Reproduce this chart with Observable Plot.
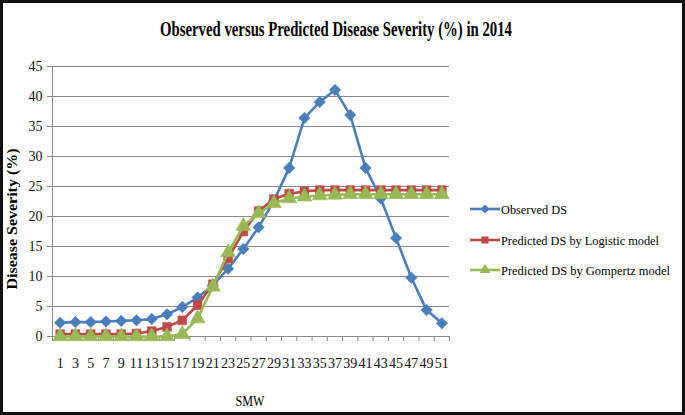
<!DOCTYPE html>
<html><head><meta charset="utf-8">
<script src="https://cdn.jsdelivr.net/npm/d3@7"></script>
<script src="https://cdn.jsdelivr.net/npm/@observablehq/plot@0.6"></script>
<style>
html,body{margin:0;padding:0;background:#fff;}
#wrap{position:relative;width:685px;height:415px;overflow:hidden;}
</style></head><body><div id="wrap"></div>
<script>
const weeks = [1,3,5,7,9,11,13,15,17,19,21,23,25,27,29,31,33,35,37,39,41,43,45,47,49,51];
const observed = [2.3,2.4,2.4,2.5,2.6,2.7,2.9,3.7,4.9,6.5,8.5,11.3,14.6,18.2,22.6,28.1,36.4,39.1,41.1,36.9,28.1,23.0,16.4,9.8,4.4,2.2];
const logistic = [0.4,0.4,0.4,0.4,0.4,0.5,0.9,1.6,2.7,5.2,8.7,13.0,17.5,20.9,22.9,23.8,24.2,24.4,24.4,24.4,24.4,24.4,24.4,24.4,24.4,24.4];
const gompertz = [0,0,0,0,0,0,0,0,0.4,3.0,8.3,14.0,18.4,20.5,22.2,23.0,23.3,23.5,23.6,23.7,23.7,23.7,23.7,23.7,23.7,23.7];
const yTicks = [0,5,10,15,20,25,30,35,40,45];
const weekBoundaries = [0,2,4,6,8,10,12,14,16,18,20,22,24,26,28,30,32,34,36,38,40,42,44,46,48,50,52];
const seriesNames = ["Observed DS","Predicted DS by Logistic model","Predicted DS by Gompertz model"];
const seriesValues = [observed, logistic, gompertz];
const colors = ["#4a7ebb","#be4b48","#98b954"];
const symbols = ["diamond2","square","triangle"];
const radii = [5.2, 5.0, 5.6];

const rows = seriesNames.map((s,i)=> weeks.map((w,j)=>({series:s, week:w, value:seriesValues[i][j]})));

const seriesMarks = rows.flatMap((data,i)=>[
  Plot.line(data,{x:"week", y:"value", stroke:colors[i], strokeWidth:2.6}),
  Plot.dot(data,{x:"week", y:"value", fill:colors[i], stroke:colors[i], strokeWidth:0.5, symbol:symbols[i], r:radii[i]})
]);

const chart = Plot.plot({
  width:685, height:415,
  marginLeft:52, marginRight:236, marginTop:66, marginBottom:79,
  style:{fontFamily:"'Liberation Serif', serif", fontSize:"14px", color:"#000", background:"#fff"},
  x:{type:"linear", domain:[0,52]},
  y:{domain:[0,45]},
  marks:[
    Plot.gridY(yTicks,{stroke:"#8a8a8a", strokeOpacity:1, strokeWidth:1}),
    Plot.ruleX([0],{stroke:"#8a8a8a"}),
    Plot.ruleY([0],{stroke:"#8a8a8a"}),
    Plot.axisY(yTicks,{tickSize:5, tickPadding:5, label:null, stroke:"#8a8a8a", fill:"#111"}),
    Plot.axisX(weekBoundaries,{tickSize:5, tickFormat:()=>"", label:null, stroke:"#8a8a8a"}),
    Plot.axisX(weeks,{tickSize:0, tickPadding:22, label:null, fill:"#111"}),
    ...seriesMarks
  ]
});
document.getElementById("wrap").appendChild(chart);

const svg = d3.select(chart);
// border
svg.append("rect").attr("x",1.5).attr("y",1.5).attr("width",682).attr("height",412)
  .attr("fill","none").attr("stroke","#111").attr("stroke-width",3);
// title
svg.append("text").attr("x",336).attr("y",36).attr("text-anchor","middle")
  .attr("font-family","'Liberation Serif', serif").attr("font-weight","bold").attr("font-size",20)
  .attr("textLength",352).attr("lengthAdjust","spacingAndGlyphs").attr("fill","#000")
  .text("Observed versus Predicted Disease Severity (%) in 2014");
// y label
svg.append("text").attr("transform","translate(17,219) rotate(-90)").attr("text-anchor","middle")
  .attr("font-family","'Liberation Serif', serif").attr("font-weight","bold").attr("font-size",14)
  .attr("textLength",141).attr("lengthAdjust","spacingAndGlyphs").attr("fill","#000")
  .text("Disease Severity (%)");
// x label
svg.append("text").attr("x",250).attr("y",406).attr("text-anchor","middle")
  .attr("font-family","'Liberation Serif', serif").attr("font-size",15).attr("fill","#000")
  .attr("textLength",29).attr("lengthAdjust","spacingAndGlyphs")
  .text("SMW");
// legend
const legY = [209,240,270];
const legLen = [66,158,169];
const symGen = {diamond2:d3.symbolDiamond2, square:d3.symbolSquare, triangle:d3.symbolTriangle};
seriesNames.forEach((name,i)=>{
  const g = svg.append("g").attr("transform",`translate(0,${legY[i]})`);
  g.append("line").attr("x1",470).attr("x2",500).attr("y1",0).attr("y2",0)
    .attr("stroke",colors[i]).attr("stroke-width",2.6);
  g.append("path").attr("transform","translate(485,0)")
    .attr("d",d3.symbol(symGen[symbols[i]], Math.PI*16)())
    .attr("fill",colors[i]);
  g.append("text").attr("x",501).attr("y",5).attr("text-anchor","start")
    .attr("font-family","'Liberation Serif', serif")
    .attr("font-size",13).attr("fill","#000")
    .attr("textLength",legLen[i]).attr("lengthAdjust","spacingAndGlyphs").text(name);
});
</script></body></html>
